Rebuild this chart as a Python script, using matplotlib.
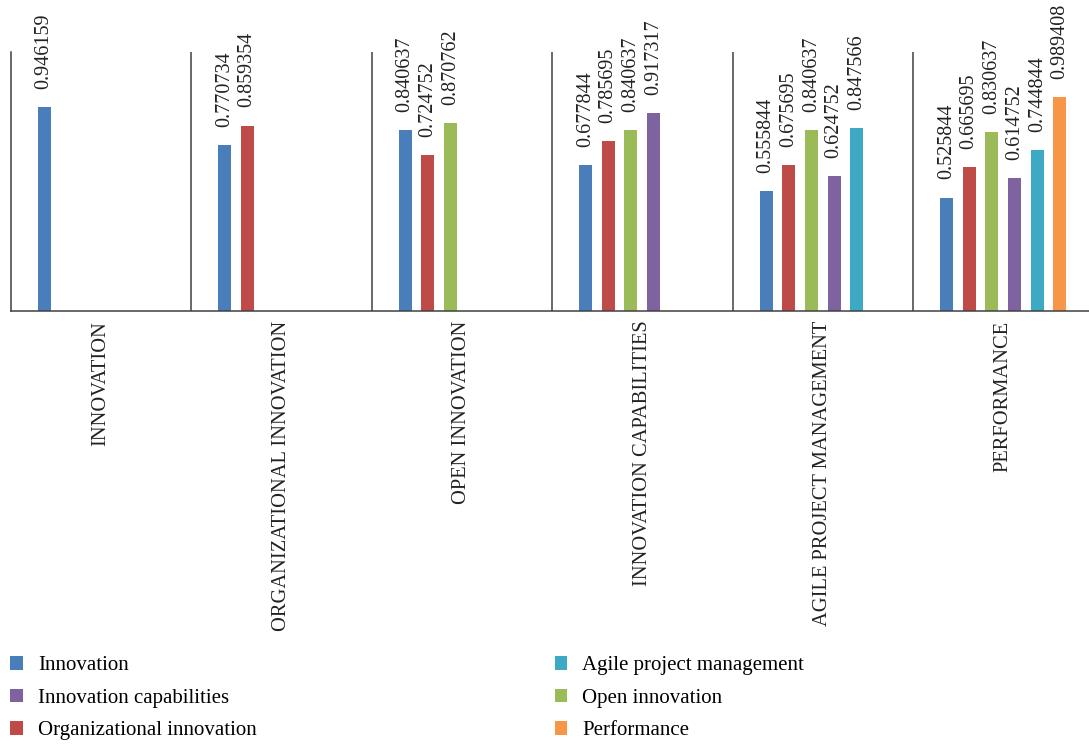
import numpy as np
import matplotlib
matplotlib.use("Agg")
import matplotlib.pyplot as plt
from matplotlib.patches import Patch

plt.rcParams['font.family'] = ['Liberation Serif', 'DejaVu Serif']

categories = ["INNOVATION", "ORGANIZATIONAL INNOVATION", "OPEN INNOVATION",
              "INNOVATION CAPABILITIES", "AGILE PROJECT MANAGEMENT", "PERFORMANCE"]
series_names = ["Innovation", "Organizational innovation", "Open innovation",
                "Innovation capabilities", "Agile project management", "Performance"]
nan = np.nan
innovation = [0.946159, 0.770734, 0.840637, 0.677844, 0.555844, 0.525844]
organizational_innovation = [nan, 0.859354, 0.724752, 0.785695, 0.675695, 0.665695]
open_innovation = [nan, nan, 0.870762, 0.840637, 0.840637, 0.830637]
innovation_capabilities = [nan, nan, nan, 0.917317, 0.624752, 0.614752]
agile_pm = [nan, nan, nan, nan, 0.847566, 0.744844]
performance = [nan, nan, nan, nan, nan, 0.989408]

series = [innovation, organizational_innovation, open_innovation,
          innovation_capabilities, agile_pm, performance]
colors = ["#4A7EBB", "#BE4B48", "#9BBB59", "#7F63A1", "#3DA9C4", "#F79646"]

W, H = 1089, 744
fig = plt.figure(figsize=(W / 100, H / 100), dpi=100)
ax = fig.add_axes([10.5 / W, (H - 311) / H, 1083 / W, 259 / H])

n = len(series)
step = 0.1257
bw = 0.072
x = np.arange(len(categories))
handles = []
for s, (vals, c, name) in enumerate(zip(series, colors, series_names)):
    pos = x + (s - (n - 1) / 2) * step
    v = np.array(vals, dtype=float)
    ax.bar(pos, np.nan_to_num(v), width=bw, color=c, linewidth=0)
    for p, val in zip(pos, v):
        if not np.isnan(val):
            ax.annotate(f"{val:.6f}", (p, val), xytext=(0, 13), textcoords="offset points",
                        rotation=90, ha="center", va="bottom", fontsize=14.5,
                        color="#222222", annotation_clip=False)
    handles.append(Patch(facecolor=c, edgecolor="none", label=name))

ax.set_xlim(-0.5, len(categories) - 0.5)
ax.set_ylim(0, 1.2)
for b in np.arange(0.5, len(categories) - 0.5, 1):
    ax.axvline(b, color="#404040", linewidth=1.1)
for side in ["top", "right"]:
    ax.spines[side].set_visible(False)
ax.spines["left"].set_color("#404040")
ax.spines["bottom"].set_color("#404040")
ax.spines["left"].set_linewidth(1.1)
ax.spines["bottom"].set_linewidth(1.1)
ax.set_yticks([])
ax.set_xticks(x)
ax.set_xticklabels(categories, rotation=90, va="top", ha="center", fontsize=14.8, color="#222222")
ax.tick_params(axis="x", length=0, pad=7)

order = [0, 3, 1, 4, 2, 5]
fig.legend([handles[i] for i in order], [series_names[i] for i in order],
           ncol=2, loc="upper left", bbox_to_anchor=(10 / W, 1 - 656 / H),
           frameon=False, fontsize=15, handlelength=0.62, handleheight=0.62,
           handletextpad=0.72, columnspacing=14.3, labelspacing=0.65,
           borderaxespad=0, borderpad=0)

fig.savefig("out.png", dpi=100)
